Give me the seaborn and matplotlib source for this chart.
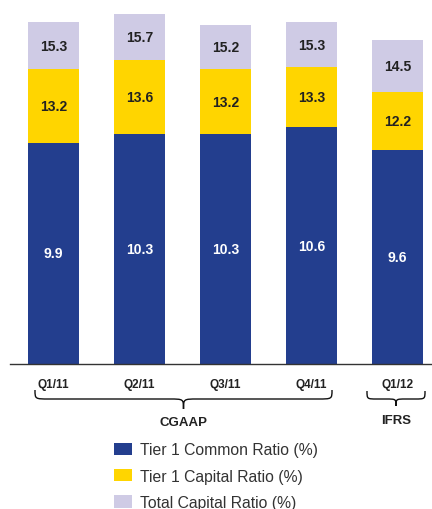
import matplotlib
matplotlib.use("Agg")
import matplotlib.pyplot as plt
from matplotlib.path import Path
from matplotlib.patches import PathPatch, Patch
from matplotlib import font_manager as fm
import seaborn as sns
import pandas as pd

quarters = ["Q1/11", "Q2/11", "Q3/11", "Q4/11", "Q1/12"]
tier1_common = [9.9, 10.3, 10.3, 10.6, 9.6]
tier1_capital = [13.2, 13.6, 13.2, 13.3, 12.2]
total_capital = [15.3, 15.7, 15.2, 15.3, 14.5]
series_names = ["Tier 1 Common Ratio (%)", "Tier 1 Capital Ratio (%)", "Total Capital Ratio (%)"]

c_blue = "#233E8E"
c_yellow = "#FFD500"
c_lav = "#CFCBE5"

sns.set_style("white")
plt.rcParams["font.family"] = ["Liberation Sans", "DejaVu Sans"]


def find_font(bold):
    for f in fm.fontManager.ttflist:
        if f.name == "Liberation Sans" and f.style == "normal":
            w = f.weight if isinstance(f.weight, int) else (700 if "bold" in str(f.weight) else 400)
            if (w >= 600) == bold:
                return fm.FontProperties(fname=f.fname)
    return fm.FontProperties(family="DejaVu Sans", weight="bold" if bold else "normal")


FB = find_font(True)
FR = find_font(False)


def fp(base, size):
    p = base.copy()
    p.set_size(size)
    return p


df = pd.DataFrame({"q": quarters, "common": tier1_common,
                   "capital": tier1_capital, "total": total_capital})

W, H = 432, 510
fig = plt.figure(figsize=(W / 100, H / 100), dpi=100)
ax = fig.add_axes([10 / W, (H - 365) / H, (W - 10) / W, 365 / H])

for col, color in [("total", c_lav), ("capital", c_yellow), ("common", c_blue)]:
    sns.barplot(data=df, x="q", y=col, color=color, width=0.6, ax=ax,
                saturation=1, linewidth=0, order=quarters)

ax.set_xlim(-0.505, 4.4)
ax.set_ylim(0, 16.35)
ax.set_xlabel("")
ax.set_ylabel("")
ax.set_yticks([])
for s in ["left", "right", "top"]:
    ax.spines[s].set_visible(False)
ax.spines["bottom"].set_color("#333333")
ax.spines["bottom"].set_linewidth(1.0)
ax.tick_params(axis="x", length=0, pad=10, colors="#222222")
for t in ax.get_xticklabels():
    t.set_fontproperties(fp(FB, 8.5))

# value labels
for i in range(len(quarters)):
    ax.text(i, tier1_common[i] / 2, f"{tier1_common[i]:.1f}", ha="center", va="center",
            color="white", fontproperties=fp(FB, 10))
    ax.text(i, (tier1_common[i] + tier1_capital[i]) / 2, f"{tier1_capital[i]:.1f}",
            ha="center", va="center", color="#222222", fontproperties=fp(FB, 10))
    ax.text(i, (tier1_capital[i] + total_capital[i]) / 2, f"{total_capital[i]:.1f}",
            ha="center", va="center", color="#222222", fontproperties=fp(FB, 10))

# overlay for braces (pixel coordinates)
ov = fig.add_axes([0, 0, 1, 1], facecolor="none")
ov.set_xlim(0, W)
ov.set_ylim(H, 0)
ov.axis("off")


def brace(x0, x1, ytop, ymid, ytip, r=14):
    xm = (x0 + x1) / 2
    verts = [(x0, ytop), (x0, ymid), (x0, ymid), (x0 + r, ymid),
             (xm - r, ymid),
             (xm, ymid), (xm, ymid), (xm, ytip),
             (xm, ymid), (xm, ymid), (xm + r, ymid),
             (x1 - r, ymid),
             (x1, ymid), (x1, ymid), (x1, ytop)]
    codes = [Path.MOVETO, Path.CURVE4, Path.CURVE4, Path.CURVE4,
             Path.LINETO,
             Path.CURVE4, Path.CURVE4, Path.CURVE4,
             Path.CURVE4, Path.CURVE4, Path.CURVE4,
             Path.LINETO,
             Path.CURVE4, Path.CURVE4, Path.CURVE4]
    ov.add_patch(PathPatch(Path(verts, codes), fill=False, lw=1.0, color="#111111"))


brace(35, 332, 391, 400, 410, r=14)
brace(367, 425, 392, 400, 407, r=10)
ov.text(183, 423, "CGAAP", ha="center", va="center", color="#222222", fontproperties=fp(FB, 9.5))
ov.text(396, 421, "IFRS", ha="center", va="center", color="#222222", fontproperties=fp(FB, 9.5))

handles = [Patch(facecolor=c, edgecolor="none") for c in [c_blue, c_yellow, c_lav]]
fig.legend(handles, series_names, loc="upper left", bbox_to_anchor=(108 / W, 1 - 437 / H),
           frameon=False, prop=fp(FR, 11.3), handlelength=1.1, handleheight=0.85,
           handletextpad=0.55, labelspacing=0.72, labelcolor="#333333", borderaxespad=0)

fig.savefig("out.png", dpi=100)
